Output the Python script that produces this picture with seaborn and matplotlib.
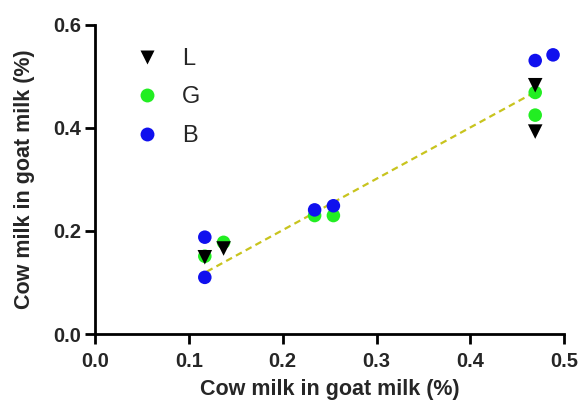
import pandas as pd
import matplotlib
matplotlib.use('Agg')
import matplotlib.pyplot as plt
import seaborn as sns

# Values
l_x = [0.117, 0.137, 0.469, 0.469]
l_y = [0.149, 0.166, 0.483, 0.393]

g_x = [0.117, 0.137, 0.234, 0.254, 0.469, 0.469]
g_y = [0.151, 0.178, 0.230, 0.230, 0.469, 0.425]

b_x = [0.117, 0.117, 0.234, 0.254, 0.469, 0.488]
b_y = [0.188, 0.110, 0.241, 0.249, 0.531, 0.542]

# fitted trend line end points
fit_x = [0.119, 0.466]
fit_y = [0.121, 0.467]

x_ticks = [0.0, 0.1, 0.2, 0.3, 0.4, 0.5]
y_ticks = [0.0, 0.2, 0.4, 0.6]

df = pd.concat([
    pd.DataFrame({'x': g_x, 'y': g_y, 'group': 'G'}),
    pd.DataFrame({'x': l_x, 'y': l_y, 'group': 'L'}),
    pd.DataFrame({'x': b_x, 'y': b_y, 'group': 'B'}),
], ignore_index=True)

sns.set_style('ticks')
plt.rcParams['font.family'] = ['Liberation Sans', 'DejaVu Sans']

fig = plt.figure(figsize=(5.82, 4.03), dpi=100)
ax = fig.add_axes([0.1632, 0.1712, 0.8064, 0.7668])

colors = {'L': 'black', 'G': '#22ee22', 'B': '#1010ee'}
markers = {'L': 'v', 'G': 'o', 'B': 'o'}

sns.lineplot(x=fit_x, y=fit_y, ax=ax, color='#c8c41e', lw=1.6,
             linestyle=(0, (3, 2)), zorder=1)

for name in ['G', 'L', 'B']:
    sub = df[df['group'] == name]
    sns.scatterplot(data=sub, x='x', y='y', ax=ax, color=colors[name],
                    marker=markers[name], s=95 if name != 'L' else 110,
                    edgecolor='none', label=name, zorder=3, legend=False)

ax.set_xlim(0, 0.5)
ax.set_ylim(0, 0.6)
ax.set_xticks(x_ticks)
ax.set_yticks(y_ticks)
ax.set_xticklabels([f'{t:.1f}' for t in x_ticks], fontsize=14.5, fontweight='bold')
ax.set_yticklabels([f'{t:.1f}' for t in y_ticks], fontsize=14.5, fontweight='bold')
ax.set_xlabel('Cow milk in goat milk (%)', fontsize=15.5, fontweight='bold', labelpad=6)
ax.set_ylabel('Cow milk in goat milk (%)', fontsize=15.5, fontweight='bold', labelpad=13)

sns.despine(ax=ax)
for side in ['left', 'bottom']:
    ax.spines[side].set_linewidth(2)
    ax.spines[side].set_color('black')
ax.tick_params(width=2, length=7, color='black')
ax.tick_params(axis='x', pad=6)
ax.tick_params(axis='y', pad=3)

# legend in order L, G, B
handles = []
for name in ['L', 'G', 'B']:
    h, = ax.plot([], [], linestyle='none', marker=markers[name], color=colors[name],
                 markersize=10 if name != 'L' else 10.5, markeredgecolor='none', label=name)
    handles.append(h)
ax.legend(handles=handles, loc='upper left', bbox_to_anchor=(0.04, 0.995),
          frameon=False, fontsize=17, labelspacing=0.7, handletextpad=1.0,
          handlelength=1.0)

fig.savefig('out.png', dpi=100)
